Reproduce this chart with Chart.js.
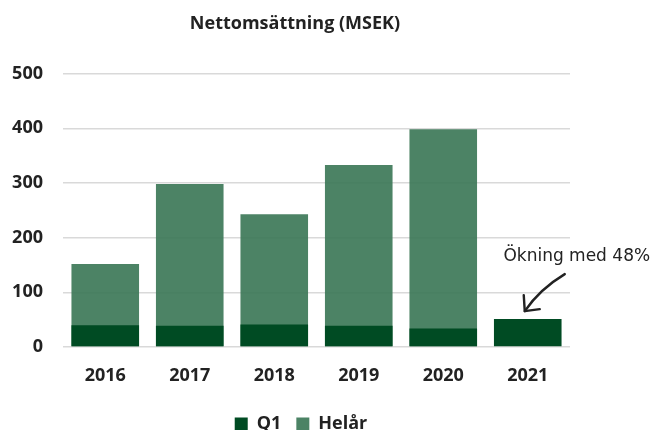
<!DOCTYPE html>
<html>
<head>
<meta charset="utf-8">
<script src="https://cdn.jsdelivr.net/npm/chart.js@4"></script>
<style>
    html, body { margin: 0; padding: 0; background: #fff; }
    #wrap { width: 653px; height: 430px; }
</style>
</head>
<body>
<div id="wrap"><canvas id="salesChart" width="653" height="430"></canvas></div>
<script>
// Data
const years = ['2016', '2017', '2018', '2019', '2020', '2021'];
const q1Values = [40, 39, 41, 39, 34, 51];
const fullYearValues = [152, 298, 243, 333, 398, null];
const yTicks = [0, 100, 200, 300, 400, 500];
const noteText = 'Ökning med 48%';

const FONT = "'Open Sans', 'Liberation Sans', sans-serif";

/**
 * Handwritten-style note with an arrow pointing at the 2021 bar
 */
const notePlugin = {
    id: 'note',
    afterLayout(chart) {
        // nudge title and legend a bit to the right, like the original
        const shift = (box, d) => {
            if (!box) return;
            box.left += d;
            box.right += d;
        };
        shift(chart.titleBlock, 5);
        shift(chart.legend, 11);
    },
    afterDatasetsDraw(chart) {
        const ctx = chart.ctx;
        const bx = chart.scales.x.getPixelForValue(5);
        const by = chart.scales.y.getPixelForValue(q1Values[5]);

        ctx.save();
        ctx.fillStyle = '#222';
        ctx.font = "17px 'DejaVu Sans', sans-serif";
        ctx.textAlign = 'center';
        ctx.textBaseline = 'alphabetic';
        ctx.fillText(noteText, bx + 49, by - 58);

        // arrow
        const tipX = bx - 3, tipY = by - 8;
        const tailX = bx + 37, tailY = by - 45;
        ctx.strokeStyle = '#222';
        ctx.lineWidth = 2.4;
        ctx.lineCap = 'round';
        ctx.lineJoin = 'round';
        ctx.beginPath();
        ctx.moveTo(tailX, tailY);
        ctx.quadraticCurveTo(bx + 12, by - 30, tipX, tipY);
        ctx.stroke();
        ctx.beginPath();
        ctx.moveTo(tipX - 1, tipY - 16);
        ctx.lineTo(tipX, tipY);
        ctx.lineTo(tipX + 15, tipY - 2);
        ctx.stroke();
        ctx.restore();
    }
};

document.addEventListener('DOMContentLoaded', function() {
    const ctx = document.getElementById('salesChart');

    new Chart(ctx.getContext('2d'), {
        type: 'bar',
        data: {
            labels: years,
            datasets: [{
                label: 'Q1',
                data: q1Values,
                backgroundColor: '#004b23',
                barPercentage: 0.8,
                categoryPercentage: 1.0
            }, {
                label: 'Helår',
                data: fullYearValues,
                backgroundColor: 'rgba(56, 118, 84, 0.9)',
                barPercentage: 0.8,
                categoryPercentage: 1.0
            }]
        },
        options: {
            responsive: false,
            animation: false,
            layout: {
                padding: { left: 10, right: 83, top: 0, bottom: -13 }
            },
            plugins: {
                title: {
                    display: true,
                    text: 'Nettomsättning (MSEK)',
                    color: '#222',
                    font: { family: FONT, size: 18, weight: 'bold' },
                    padding: { top: 13, bottom: 39 }
                },
                legend: {
                    position: 'bottom',
                    labels: {
                        color: '#222',
                        boxWidth: 13,
                        boxHeight: 13,
                        padding: 15,
                        font: { family: FONT, size: 18, weight: 'bold' }
                    }
                },
                tooltip: { enabled: false }
            },
            scales: {
                x: {
                    stacked: true,
                    grid: { display: false },
                    border: { display: false },
                    afterFit: function(axis) {
                        axis.height = 53;
                    },
                    ticks: {
                        color: '#222',
                        padding: 10,
                        font: { family: FONT, size: 18, weight: 'bold' }
                    }
                },
                y: {
                    stacked: false,
                    min: 0,
                    max: 500,
                    afterBuildTicks: function(axis) {
                        axis.ticks = yTicks.map(v => ({ value: v }));
                    },
                    afterFit: function(axis) {
                        axis.width = 53;
                    },
                    grid: {
                        color: '#d9d9d9',
                        lineWidth: 1.5,
                        drawTicks: false
                    },
                    border: { display: false },
                    ticks: {
                        color: '#222',
                        padding: 20,
                        font: { family: FONT, size: 18, weight: 'bold' }
                    }
                }
            }
        },
        plugins: [notePlugin]
    });
});
</script>
</body>
</html>
